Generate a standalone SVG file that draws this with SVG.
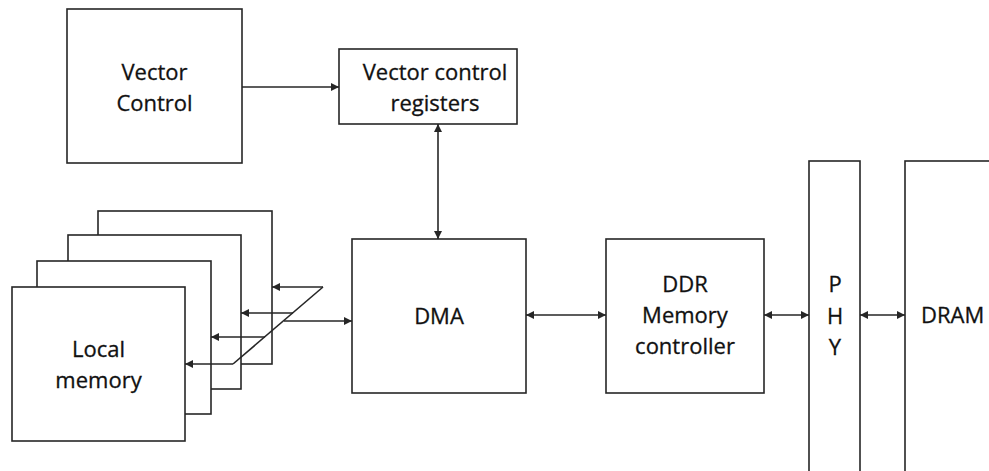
<svg xmlns="http://www.w3.org/2000/svg" width="989" height="471" viewBox="0 0 989 471">
  <style>
    .box { fill: #ffffff; stroke: #262626; stroke-width: 1.6; }
    .wire { fill: none; stroke: #262626; stroke-width: 1.6; }
    .label { font-family: "Open Sans", "Liberation Sans", sans-serif; font-size: 22px; fill: #111111; stroke: #111111; stroke-width: 0.3; text-anchor: middle; }
  </style>
  <defs>
    <marker id="head" viewBox="0 0 10 10" refX="10" refY="5" markerWidth="9" markerHeight="8" markerUnits="userSpaceOnUse" orient="auto-start-reverse">
      <path d="M0,0 L10,5 L0,10 z" fill="#262626"/>
    </marker>
  </defs>

  <rect width="989" height="471" fill="#ffffff"/>

  <!-- Vector Control -->
  <g id="vector-control">
    <rect class="box" x="67" y="9" width="175" height="154"/>
    <text class="label" x="154.5" y="80">Vector</text>
    <text class="label" x="154.5" y="111">Control</text>
  </g>

  <!-- Vector control registers -->
  <g id="vector-control-registers">
    <rect class="box" x="339" y="49" width="178" height="75"/>
    <text class="label" x="435" y="80">Vector control</text>
    <text class="label" x="435" y="111">registers</text>
  </g>

  <!-- Stack of local memory banks, back to front -->
  <g id="local-memory">
    <rect class="box" x="98" y="211" width="174" height="153"/>
    <rect class="box" x="68" y="235" width="173" height="154"/>
    <rect class="box" x="37" y="261" width="174" height="153"/>
    <rect class="box" x="12" y="287" width="173" height="154"/>
    <text class="label" x="98.5" y="357">Local</text>
    <text class="label" x="98.5" y="388">memory</text>
  </g>

  <!-- DMA -->
  <g id="dma">
    <rect class="box" x="352" y="239" width="174" height="154"/>
    <text class="label" x="439" y="324">DMA</text>
  </g>

  <!-- DDR memory controller -->
  <g id="ddr-controller">
    <rect class="box" x="606" y="239" width="158" height="154"/>
    <text class="label" x="685" y="292">DDR</text>
    <text class="label" x="685" y="323">Memory</text>
    <text class="label" x="685" y="354">controller</text>
  </g>

  <!-- PHY -->
  <g id="phy">
    <rect class="box" x="809" y="161" width="51" height="330"/>
    <text class="label" x="835" y="292">P</text>
    <text class="label" x="835" y="324">H</text>
    <text class="label" x="835" y="355">Y</text>
  </g>

  <!-- DRAM -->
  <g id="dram">
    <rect class="box" x="905" y="161" width="120" height="330"/>
    <text class="label" x="921" y="323" style="text-anchor: start">DRAM</text>
  </g>

  <!-- Connectors -->
  <g id="connectors">
    <line class="wire" x1="242" y1="87" x2="339" y2="87" marker-end="url(#head)"/>
    <line class="wire" x1="438" y1="124" x2="438" y2="239" marker-start="url(#head)" marker-end="url(#head)"/>
    <line class="wire" x1="526" y1="315" x2="606" y2="315" marker-start="url(#head)" marker-end="url(#head)"/>
    <line class="wire" x1="764" y1="315" x2="809" y2="315" marker-start="url(#head)" marker-end="url(#head)"/>
    <line class="wire" x1="860" y1="315" x2="905" y2="315" marker-start="url(#head)" marker-end="url(#head)"/>

    <!-- fan-out bus from DMA to the memory banks -->
    <line class="wire" x1="323" y1="287" x2="233" y2="364"/>
    <line class="wire" x1="284" y1="321" x2="352" y2="321" marker-end="url(#head)"/>
    <line class="wire" x1="323" y1="287" x2="272" y2="287" marker-end="url(#head)"/>
    <line class="wire" x1="293" y1="313" x2="241" y2="313" marker-end="url(#head)"/>
    <line class="wire" x1="265" y1="337" x2="211" y2="337" marker-end="url(#head)"/>
    <line class="wire" x1="233" y1="364" x2="185" y2="364" marker-end="url(#head)"/>
  </g>
</svg>
